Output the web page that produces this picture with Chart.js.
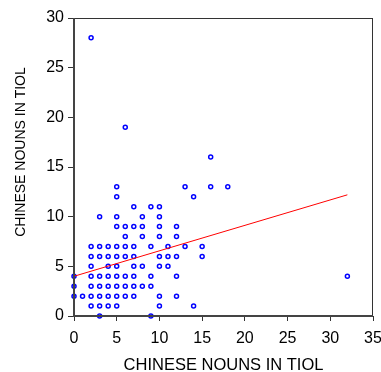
<!DOCTYPE html>
<html>
<head>
<meta charset="utf-8">
<script src="https://cdn.jsdelivr.net/npm/chart.js@4"></script>
<style>
  body { margin: 0; background: #fff; }
  #wrap { width: 381px; height: 372px; }
</style>
</head>
<body>
<div id="wrap"><canvas id="scatterChart"></canvas></div>
<script>
// observations, grouped by y value (x values listed per row)
const rowY = [0, 1, 2, 3, 4, 5, 6, 7, 8, 9, 10, 11, 12, 13, 16, 19, 28];
const rowX = [
    [3, 9],
    [2, 3, 4, 5, 10, 14],
    [0, 1, 2, 3, 4, 5, 6, 7, 10, 12],
    [0, 2, 3, 4, 5, 6, 7, 8, 9],
    [0, 2, 3, 4, 5, 6, 7, 9, 12, 32],
    [2, 4, 5, 7, 8, 10, 11],
    [2, 3, 4, 5, 6, 7, 10, 11, 12, 15],
    [2, 3, 4, 5, 6, 7, 9, 11, 13, 15],
    [6, 8, 10, 12],
    [5, 6, 7, 8, 10, 12],
    [3, 5, 8, 10],
    [7, 9, 10],
    [5, 14],
    [5, 13, 16, 18],
    [16],
    [6],
    [2]
];

// fitted line end points
const fitX = [0, 32];
const fitY = [4.0, 12.2];

const xTicks = [0, 5, 10, 15, 20, 25, 30, 35];
const yTicks = [0, 5, 10, 15, 20, 25, 30];

const xTitle = "CHINESE NOUNS IN TIOL";
const yTitle = "CHINESE NOUNS IN TIOL";

const points = [];
rowY.forEach(function (y, i) {
    rowX[i].forEach(function (x) {
        points.push({ x: x, y: y });
    });
});

const fitLine = fitX.map(function (x, i) {
    return { x: x, y: fitY[i] };
});

// box round the plot area, plus the y title (sits a bit above centre in the original)
const frame = {
    id: "frame",
    afterDatasetsDraw: function (chart) {
        const a = chart.chartArea;
        const c = chart.ctx;
        c.save();
        c.strokeStyle = "#333";
        c.lineWidth = 1;
        c.strokeRect(a.left + 0.5, a.top + 0.5, a.right - a.left - 1, a.bottom - a.top - 1);
        c.lineWidth = 2;
        c.strokeStyle = "#444";
        c.beginPath();
        c.moveTo(a.left, a.top);
        c.lineTo(a.left, a.bottom);
        c.lineTo(a.right, a.bottom);
        c.stroke();
        c.restore();
    },
    afterDraw: function (chart) {
        const c = chart.ctx;
        c.save();
        c.translate(21, 152);
        c.rotate(-Math.PI / 2);
        c.font = "14px 'Liberation Sans', Arial, sans-serif";
        c.fillStyle = "#000";
        c.textAlign = "center";
        c.textBaseline = "middle";
        c.fillText(yTitle, 0, 0);
        c.restore();
    }
};

Chart.defaults.font.family = "'Liberation Sans', Arial, sans-serif";
Chart.defaults.color = "#000";

new Chart(document.getElementById("scatterChart"), {
    type: "scatter",
    data: {
        datasets: [
            {
                type: "line",
                data: fitLine,
                borderColor: "#ff0000",
                borderWidth: 1,
                pointRadius: 0,
                fill: false
            },
            {
                data: points,
                pointRadius: 2,
                pointBorderWidth: 1.5,
                pointBorderColor: "#0000ff",
                pointBackgroundColor: "#ffffff",
                clip: false
            }
        ]
    },
    options: {
        responsive: true,
        maintainAspectRatio: false,
        animation: false,
        layout: {
            autoPadding: false,
            padding: { left: 0, top: 18, right: 8, bottom: 0 }
        },
        plugins: {
            legend: { display: false },
            tooltip: { enabled: false }
        },
        scales: {
            x: {
                type: "linear",
                min: 0,
                max: 35,
                afterBuildTicks: function (scale) {
                    scale.ticks = xTicks.map(function (v) { return { value: v }; });
                },
                afterFit: function (scale) {
                    scale.height = 56;
                    scale.paddingLeft = 0;
                    scale.paddingRight = 0;
                },
                grid: { drawOnChartArea: false, tickLength: 5, color: "#333" },
                border: { display: false },
                ticks: { font: { size: 16 }, padding: 8, maxRotation: 0 },
                title: { display: true, text: xTitle, font: { size: 16.5, lineHeight: 0.8 }, padding: { top: 0, bottom: 0 } }
            },
            y: {
                type: "linear",
                min: 0,
                max: 30,
                afterBuildTicks: function (scale) {
                    scale.ticks = yTicks.map(function (v) { return { value: v }; });
                },
                afterFit: function (scale) {
                    scale.width = 74;
                    scale.paddingTop = 0;
                    scale.paddingBottom = 0;
                },
                grid: { drawOnChartArea: false, tickLength: 6, color: "#333" },
                border: { display: false },
                ticks: { font: { size: 16 }, padding: 4 },
                title: { display: false }
            }
        }
    },
    plugins: [frame]
});
</script>
</body>
</html>
